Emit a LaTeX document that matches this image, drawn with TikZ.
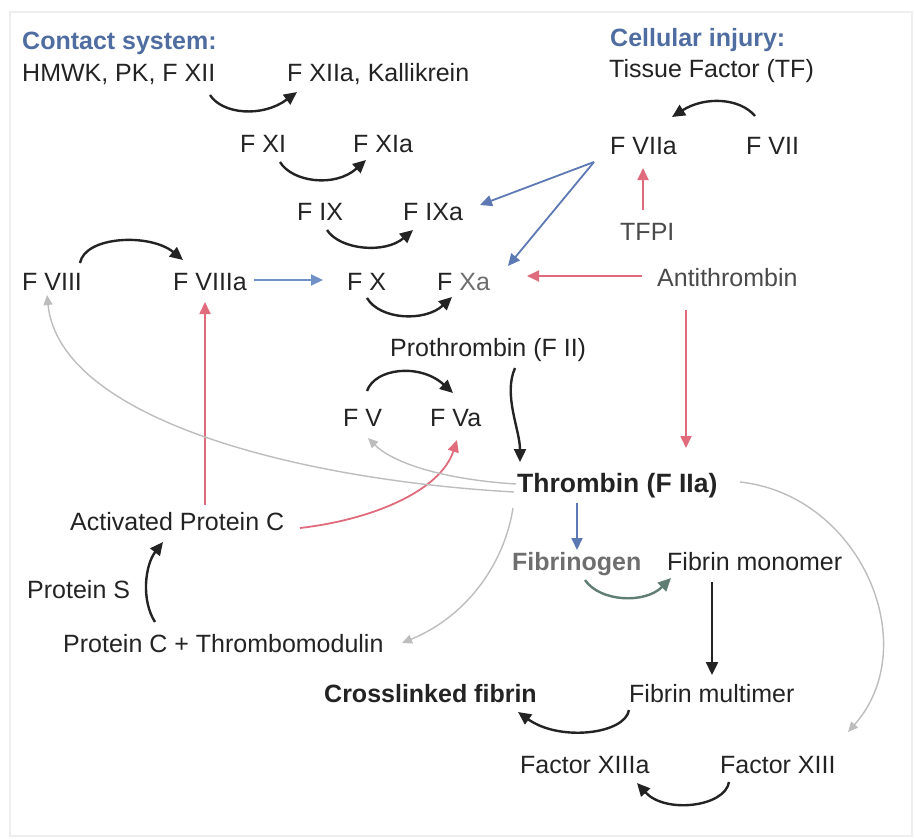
\documentclass[tikz,border=0pt]{standalone}
\usepackage{fontspec}
\setmainfont{Liberation Sans}
\usetikzlibrary{arrows.meta}
\definecolor{ink}{HTML}{232323}
\definecolor{hdblue}{HTML}{4F6DA0}
\definecolor{arblue}{HTML}{5D79B4}
\definecolor{ltblue}{HTML}{7090C8}
\definecolor{arred}{HTML}{E06B7D}
\definecolor{argray}{HTML}{BDBDBD}
\definecolor{fbgray}{HTML}{6E6E6E}
\definecolor{argreen}{HTML}{5F7D73}
\definecolor{dkgray}{HTML}{4A4A4A}
\definecolor{frame}{HTML}{EEEEEE}
\begin{document}
\begin{tikzpicture}[x=1pt,y=-1pt,
  lbl/.style={anchor=base west,inner sep=0pt,text=ink,font=\fontsize{25}{30}\selectfont},
  hdr/.style={lbl,text=hdblue,font=\fontsize{25}{30}\selectfont\bfseries},
  bld/.style={lbl,font=\fontsize{25}{30}\selectfont\bfseries},
  blkarr/.style={draw=ink,line width=2.4pt,-{Triangle[length=13pt,width=12pt]}},
  grnarr/.style={draw=argreen,line width=2.4pt,-{Triangle[length=13pt,width=12pt]}},
  grayarr/.style={draw=argray,line width=1.4pt,-{Triangle[length=10pt,width=9pt]}},
  redarr/.style={draw=arred,line width=1.8pt,-{Triangle[length=12pt,width=11pt]}},
  bluearr/.style={draw=arblue,line width=1.8pt,-{Triangle[length=12pt,width=11pt]}}]
\useasboundingbox (0,0) rectangle (915,840);
\draw[frame,line width=1.5pt] (10,12) rectangle (912,836);

% labels
\node[hdr] (cs) at (22,50) {Contact system:};
\node[lbl] (hmwk) at (22,82) {HMWK, PK, F XII};
\node[lbl] (f12a) at (287,82) {F XIIa, Kallikrein};
\node[hdr] (ci) at (610,47) {Cellular injury:};
\node[lbl] (tf) at (609,78) {Tissue Factor (TF)};
\node[lbl] (f11) at (240,153) {F XI};
\node[lbl] (f11a) at (353,153) {F XIa};
\node[lbl] (f7a) at (610,154) {F VIIa};
\node[lbl] (f7) at (746,154) {F VII};
\node[lbl] (f9) at (297,220) {F IX};
\node[lbl] (f9a) at (403,220) {F IXa};
\node[lbl,text=dkgray] (tfpi) at (620,240) {TFPI};
\node[lbl] (f8) at (22,290) {F VIII};
\node[lbl] (f8a) at (173,290) {F VIIIa};
\node[lbl] (f10) at (347,290) {F X};
\node[lbl] (f10a) at (437,290) {F \textcolor{fbgray}{Xa}};
\node[lbl,text=dkgray] (at) at (657,286) {Antithrombin};
\node[lbl] (pt) at (390,356) {Prothrombin (F II)};
\node[lbl] (f5) at (343,426) {F V};
\node[lbl] (f5a) at (430,426) {F Va};
\node[bld,font=\fontsize{26.5}{30}\selectfont\bfseries] (thr) at (517,492) {Thrombin (F IIa)};
\node[lbl] (apc) at (70,530) {Activated Protein C};
\node[lbl] (ps) at (27,598) {Protein S};
\node[lbl] (pctm) at (63,652) {Protein C + Thrombomodulin};
\node[bld,text=fbgray] (fbg) at (512,570) {Fibrinogen};
\node[lbl] (fm) at (667,570) {Fibrin monomer};
\node[bld] (cf) at (324,702) {Crosslinked fibrin};
\node[lbl] (fmul) at (629,702) {Fibrin multimer};
\node[lbl] (f13a) at (520,773) {Factor XIIIa};
\node[lbl] (f13) at (720,773) {Factor XIII};

% black conversion arrows
\draw[blkarr] ([shift={(188,13)}]hmwk.base west) .. controls (222,114) and (262,118) .. ([shift={(10,10)}]f12a.base west);
\draw[blkarr] ([shift={(40,9)}]f11.base west) .. controls (292,182) and (335,188) .. ([shift={(13,7)}]f11a.base west);
\draw[blkarr] ([shift={(30,10)}]f9.base west) .. controls (340,250) and (385,254) .. ([shift={(10,10)}]f9a.base west);
\draw[blkarr] ([shift={(58,-27)}]f8.base west) .. controls (85,236) and (150,233) .. ([shift={(10,-30)}]f8a.base west);
\draw[blkarr] ([shift={(20,8)}]f10.base west) .. controls (380,320) and (425,322) .. ([shift={(15,7)}]f10a.base west);
\draw[blkarr] ([shift={(24,-35)}]f5.base west) .. controls (375,368) and (420,363) .. ([shift={(23,-33)}]f5a.base west);
\draw[blkarr] ([shift={(9,-38)}]f7.base west) .. controls (740,98) and (705,96) .. ([shift={(62,-37)}]f7a.base west);
\draw[blkarr] ([shift={(125,12)}]pt.base west) .. controls (503,395) and (520,430) .. ([shift={(3,-30)}]thr.base west);
\draw[blkarr] ([shift={(0,8)}]fmul.base west) .. controls (625,734) and (560,742) .. ([shift={(194,10)}]cf.base west);
\draw[blkarr] ([shift={(9,9)}]f13.base west) .. controls (725,807) and (665,814) .. ([shift={(117,10)}]f13a.base west);
\draw[blkarr] ([shift={(92,-30)}]pctm.base west) .. controls (141,600) and (145,565) .. ([shift={(93,12)}]apc.base west);
\draw[blkarr] ([shift={(45,12)}]fm.base west) -- ([shift={(83,-27)}]fmul.base west);
\draw[grnarr] ([shift={(73,10)}]fbg.base west) .. controls (600,602) and (645,604) .. ([shift={(4,8)}]fm.base west);

% blue arrows
\draw[bluearr,draw=ltblue] ([shift={(81,-10)}]f8a.base west) -- ([shift={(-24,-10)}]f10.base west);
\draw[bluearr] ([shift={(-16,8)}]f7a.base west) -- ([shift={(77,-15)}]f9a.base west);
\draw[bluearr] ([shift={(-16,8)}]f7a.base west) -- ([shift={(71,-24)}]f10a.base west);
\draw[bluearr] ([shift={(60,11)}]thr.base west) -- ([shift={(65,-20)}]fbg.base west);

% red arrows
\draw[redarr] ([shift={(23,-30)}]tfpi.base west) -- ([shift={(33,14)}]f7a.base west);
\draw[redarr] ([shift={(-15,-10)}]at.base west) -- ([shift={(90,-14)}]f10a.base west);
\draw[redarr] ([shift={(29,24)}]at.base west) -- ([shift={(169,-44)}]thr.base west);
\draw[redarr] ([shift={(135,-25)}]apc.base west) -- ([shift={(32,12)}]f8a.base west);
\draw[redarr] ([shift={(230,-2)}]apc.base west) .. controls (370,520) and (440,492) .. ([shift={(27,14)}]f5a.base west);

% gray arrows
\draw[grayarr] ([shift={(-3,0)}]thr.base west) .. controls (300,480) and (60,420) .. ([shift={(25,5)}]f8.base west);
\draw[grayarr] ([shift={(-1,-8)}]thr.base west) .. controls (450,480) and (395,465) .. ([shift={(25,12)}]f5.base west);
\draw[grayarr] ([shift={(-4,16)}]thr.base west) .. controls (505,560) and (470,615) .. ([shift={(339,-9)}]pctm.base west);
\draw[grayarr] ([shift={(223,-10)}]thr.base west) .. controls (860,495) and (925,645) .. ([shift={(128,-41)}]f13.base west);
\end{tikzpicture}
\end{document}
